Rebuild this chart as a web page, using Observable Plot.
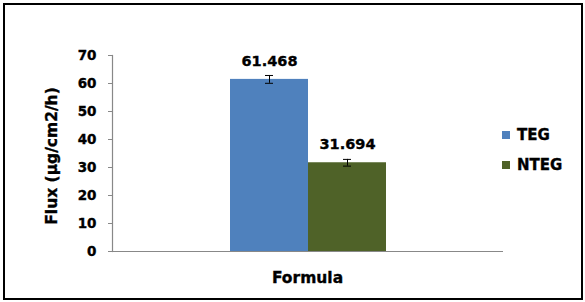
<!DOCTYPE html>
<html><head><meta charset="utf-8">
<script src="https://cdn.jsdelivr.net/npm/d3@7"></script>
<script src="https://cdn.jsdelivr.net/npm/@observablehq/plot@0.6"></script>
<style>
body{margin:0;background:#fff;}
#wrap{position:relative;width:585px;height:302px;overflow:hidden;font-family:"DejaVu Sans",sans-serif;font-weight:bold;color:#000;background:#fff;}
#chart{position:absolute;left:0;top:0;}
#chart svg text{stroke:#000;stroke-width:0.35px;}
#border{position:absolute;left:3px;top:3px;width:580px;height:297px;border:2px solid #000;box-sizing:border-box;pointer-events:none;}
#ylabel,#xlabel,.leg{-webkit-text-stroke:0.35px #000;}
#ylabel{position:absolute;left:52px;top:156px;transform:translate(-50%,-50%) rotate(-90deg);font-size:15.5px;white-space:nowrap;}
#xlabel{position:absolute;left:307.5px;top:278px;transform:translate(-50%,-50%);font-size:15.5px;white-space:nowrap;}
.leg{position:absolute;left:502px;font-size:15px;line-height:15px;white-space:nowrap;}
.leg i{display:inline-block;width:8px;height:8px;margin-right:7px;vertical-align:1px;-webkit-text-stroke:0;}
</style>
</head><body>
<div id="wrap">
  <div id="chart"></div>
  <div id="ylabel"></div>
  <div id="xlabel"></div>
  <div id="legend"></div>
  <div id="border"></div>
</div>
<script>
const series = ["TEG", "NTEG"];
const flux = [61.468, 31.694];
const errors = [1.4, 1.2];
const colors = ["#4F81BD", "#4F6228"];
const yTicks = [0, 10, 20, 30, 40, 50, 60, 70];
const yTitle = "Flux (µg/cm2/h)";
const xTitle = "Formula";

const data = series.map((s, i) => ({series: s, value: flux[i], err: errors[i]}));

const chart = Plot.plot({
  width: 585,
  height: 302,
  marginLeft: 112,
  marginRight: 82,
  marginTop: 55,
  marginBottom: 51,
  style: {fontFamily: "DejaVu Sans, sans-serif", fontWeight: "bold", background: "transparent"},
  x: {domain: series, paddingInner: 0, paddingOuter: 1.5, axis: null},
  y: {domain: [0, 70]},
  color: {domain: series, range: colors},
  marks: [
    Plot.barY(data, {x: "series", y: "value", fill: "series"}),
    Plot.ruleX(data, {x: "series", y1: d => d.value - d.err, y2: d => d.value + d.err, stroke: "#000", strokeWidth: 1}),
    Plot.tickY(data, {x: "series", y: d => d.value + d.err, insetLeft: 35, insetRight: 35, stroke: "#000", strokeWidth: 1}),
    Plot.tickY(data, {x: "series", y: d => d.value - d.err, insetLeft: 35, insetRight: 35, stroke: "#000", strokeWidth: 1}),
    Plot.text(data, {x: "series", y: "value", text: d => d.value.toFixed(3), dy: -18, fontSize: 14.5, fill: "#000"}),
    Plot.ruleY([0], {stroke: "#888", strokeWidth: 1.2}),
    Plot.frame({anchor: "left", stroke: "#888", strokeWidth: 1.2}),
    Plot.axisY({ticks: yTicks, tickSize: 4, tickPadding: 12, fontSize: 13.5, stroke: "#888", fill: "#000", label: null})
  ]
});
document.getElementById("chart").appendChild(chart);
document.getElementById("ylabel").textContent = yTitle;
document.getElementById("xlabel").textContent = xTitle;

const legend = document.getElementById("legend");
const legTops = [128, 158];
series.forEach((s, i) => {
  const el = document.createElement("div");
  el.className = "leg";
  el.style.top = legTops[i] + "px";
  const sw = document.createElement("i");
  sw.style.background = colors[i];
  el.appendChild(sw);
  el.appendChild(document.createTextNode(s));
  legend.appendChild(el);
});
</script>
</body></html>
